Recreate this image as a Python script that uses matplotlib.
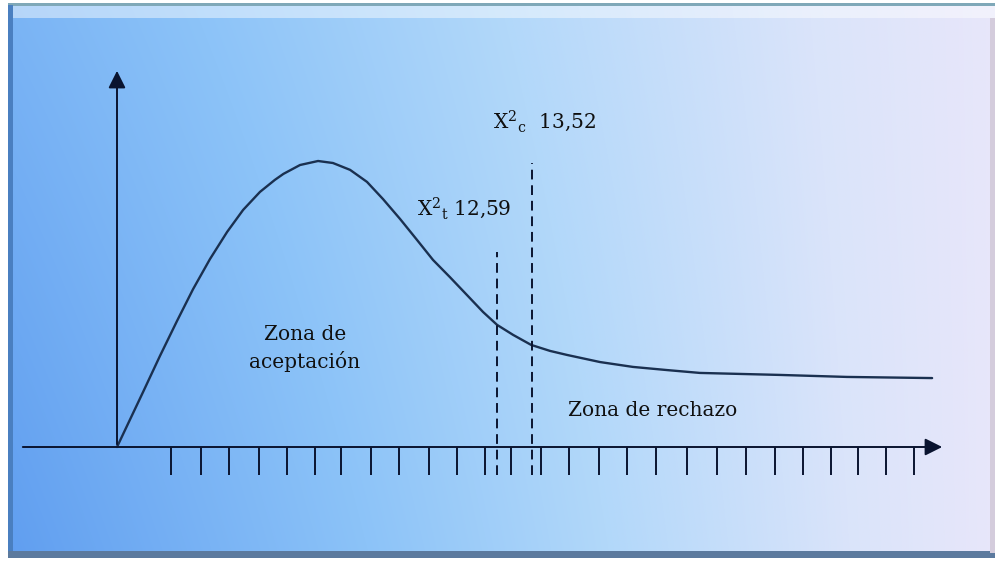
import matplotlib
matplotlib.use('AGG')

import numpy as np
import matplotlib.pyplot as plt
from matplotlib.patches import Rectangle

plt.rcParams['mathtext.fontset'] = 'custom'
plt.rcParams['mathtext.rm'] = 'DejaVu Serif'
plt.rcParams['mathtext.it'] = 'DejaVu Serif'

# Chi-square style density curve (chart units: 1 unit = one tick spacing)
curve_x = [0.0, 0.91, 1.50, 2.10, 2.66, 3.25, 3.85, 4.41, 5.00, 5.52, 5.82, 6.40,
           7.03, 7.55, 8.15, 8.74, 9.30, 9.90, 10.49, 11.05, 11.64, 12.24, 12.80,
           13.29, 13.85, 14.48, 15.14, 15.73, 16.89, 18.04, 19.23, 20.38, 23.18,
           25.52, 28.50]
curve_y = [0.0, 1.92, 3.18, 4.41, 5.52, 6.57, 7.52, 8.29, 8.92, 9.34, 9.55, 9.86,
           10.0, 9.93, 9.69, 9.27, 8.67, 7.97, 7.24, 6.54, 5.94, 5.31, 4.72,
           4.27, 3.92, 3.57, 3.36, 3.22, 2.97, 2.80, 2.69, 2.59, 2.52,
           2.45, 2.41]

# tick marks along the x axis
tick_x = [1.89, 2.94, 3.92, 4.97, 5.94, 6.92, 7.83, 8.88, 9.86, 10.91, 11.89, 12.87,
          13.78, 14.83, 15.80, 16.85, 17.83, 18.85, 19.93, 20.98, 21.99, 23.01,
          23.99, 24.97, 25.91, 26.89, 27.87]

# critical values: position, top of dashed line, label
chi_t_x, chi_t_top = 13.29, 6.82
chi_c_x, chi_c_top = 14.51, 9.93
chi_t_label = r'X$^{2}$$_{\mathrm{t}}$ 12,59'
chi_c_label = r'X$^{2}$$_{\mathrm{c}}$  13,52'

W, H = 999, 562
fig = plt.figure(figsize=(W / 100, H / 100), dpi=100)

# ---- background panel with gradient and bevelled frame ----
bg = fig.add_axes([0, 0, 1, 1])
bg.set_xlim(0, W)
bg.set_ylim(H, 0)
bg.axis('off')

nx, ny = 400, 200
xs = np.linspace(0, 1, nx)
ys = np.linspace(0, 1, ny)
stops = np.array([0.0, 0.3, 0.5, 0.7, 1.0])
cols = np.array([[96, 158, 240], [140, 195, 248], [178, 216, 250],
                 [218, 228, 250], [252, 234, 250]]) / 255.0
S = 0.82 * xs[None, :] + 0.18 * (1 - ys[:, None]) * (1 - xs[None, :])
S = np.clip(S, 0, 1)
img = np.stack([np.interp(S, stops, cols[:, k]) for k in range(3)], axis=-1)
bg.imshow(img, extent=[8, 995, 558, 5], aspect='auto', interpolation='bilinear', zorder=0)

bg.add_patch(Rectangle((8, 6), 987, 12, color='white', alpha=0.45, lw=0, zorder=1))
bg.add_patch(Rectangle((8, 3), 987, 3, color='#7fa8b8', lw=0, zorder=2))
bg.add_patch(Rectangle((8, 5), 5, 553, color='#4a7fc0', lw=0, zorder=2))
bg.add_patch(Rectangle((8, 551), 987, 7, color='#5c7a9e', lw=0, zorder=2))
bg.add_patch(Rectangle((990, 18), 5, 535, color='#d4ccdc', lw=0, zorder=2))

# ---- chart ----
ax = fig.add_axes([0, 0, 1, 1])
ax.patch.set_alpha(0)
unit = 28.6
ox, oy = 117, 447
ax.set_xlim(-ox / unit, (W - ox) / unit)
ax.set_ylim(-(H - oy) / unit, oy / unit)
ax.axis('off')

lc = '#0a1430'
# axes with arrow heads
ax.annotate('', xy=(0, 13.25), xytext=(0, 0),
            arrowprops=dict(arrowstyle='-|>', color=lc, lw=1.4, mutation_scale=26))
ax.annotate('', xy=(28.95, 0), xytext=(-3.39, 0),
            arrowprops=dict(arrowstyle='-|>', color=lc, lw=1.4, mutation_scale=26))

ax.vlines(tick_x, -0.98, 0, color=lc, lw=1.4)

ax.plot(curve_x, curve_y, color='#1a3050', lw=1.7, solid_joinstyle='round',
        solid_capstyle='round')

ax.vlines([chi_t_x], -0.98, chi_t_top, color=lc, lw=1.4, linestyles=(0, (5, 3)))
ax.vlines([chi_c_x], -0.98, chi_c_top, color=lc, lw=1.4, linestyles=(0, (5, 3)))

font = dict(family='DejaVu Serif', fontsize=14.5, color='#101010')
ax.text(10.49, 8.11, chi_t_label, ha='left', va='baseline', **font)
ax.text(13.15, 11.15, chi_c_label, ha='left', va='baseline', **font)
ax.text(6.57, 3.45, 'Zona de\naceptación', ha='center', va='center',
        multialignment='center', linespacing=1.45, **font)
ax.text(15.77, 1.08, 'Zona de rechazo', ha='left', va='baseline', **font)

plt.savefig('out.png', dpi=100)
